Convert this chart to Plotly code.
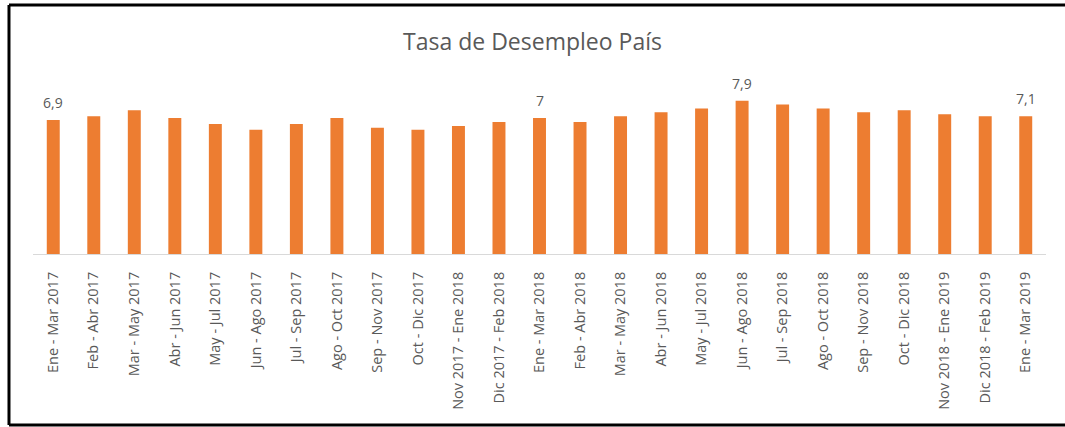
import plotly.graph_objects as go

categories = [
    "Ene - Mar 2017", "Feb - Abr 2017", "Mar - May 2017", "Abr - Jun 2017",
    "May - Jul 2017", "Jun - Ago 2017", "Jul - Sep 2017", "Ago - Oct 2017",
    "Sep - Nov 2017", "Oct - Dic 2017", "Nov 2017 - Ene 2018", "Dic 2017 - Feb 2018",
    "Ene - Mar 2018", "Feb - Abr 2018", "Mar - May 2018", "Abr - Jun 2018",
    "May - Jul 2018", "Jun - Ago 2018", "Jul - Sep 2018", "Ago - Oct 2018",
    "Sep - Nov 2018", "Oct - Dic 2018", "Nov 2018 - Ene 2019", "Dic 2018 - Feb 2019",
    "Ene - Mar 2019",
]
values = [6.9, 7.1, 7.4, 7.0, 6.7, 6.4, 6.7, 7.0, 6.5, 6.4, 6.6, 6.8,
          7.0, 6.8, 7.1, 7.3, 7.5, 7.9, 7.7, 7.5, 7.3, 7.4, 7.2, 7.1, 7.1]
labeled = ["Ene - Mar 2017", "Ene - Mar 2018", "Jun - Ago 2018", "Ene - Mar 2019"]


def fmt(v):
    s = ("%.1f" % v).rstrip("0").rstrip(".")
    return s.replace(".", ",")


GRAY = "#595959"

fig = go.Figure(go.Bar(
    x=categories, y=values,
    marker=dict(color="#ED7D31", line=dict(width=0)),
    cliponaxis=False, hoverinfo="x+y",
))

for c in labeled:
    v = values[categories.index(c)]
    fig.add_annotation(x=c, y=v, text=fmt(v), showarrow=False,
                       yanchor="bottom", yshift=6,
                       font=dict(color=GRAY, size=14, family="Open Sans"))

X0, X1, Y0, Y1 = -0.0237, 1.0188, -1.036, 1.509
border = dict(color="black", width=3)

fig.update_layout(
    width=1065, height=427,
    margin=dict(l=33, r=19, t=89, b=173),
    paper_bgcolor="white", plot_bgcolor="white",
    bargap=0.68,
    showlegend=False,
    font=dict(family="Open Sans", color=GRAY),
    title=dict(text="Tasa de Desempleo País", x=0.5, xanchor="center",
               y=1 - 42 / 427, yanchor="middle",
               font=dict(size=23, color=GRAY, family="Open Sans")),
    xaxis=dict(tickangle=-90, showline=True, linecolor="#d9d9d9", linewidth=1,
               ticks="outside", ticklen=11, tickcolor="rgba(0,0,0,0)",
               tickfont=dict(size=14.5, color=GRAY), showgrid=False),
    yaxis=dict(range=[0, 8.5], visible=False, showgrid=False, zeroline=False),
    shapes=[
        dict(type="line", xref="paper", yref="paper", x0=X0, x1=X0, y0=Y0, y1=Y1, line=border),
        dict(type="line", xref="paper", yref="paper", x0=X0, x1=X1, y0=Y1, y1=Y1, line=border),
        dict(type="line", xref="paper", yref="paper", x0=X0, x1=X1, y0=Y0, y1=Y0, line=border),
    ],
)

fig.write_html("out.html", config={"displayModeBar": False},
               post_script="document.body.style.margin='0';document.body.style.overflow='hidden';")
